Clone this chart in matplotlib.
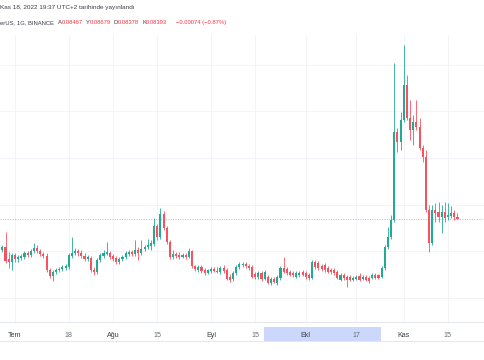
import numpy as np
import pandas as pd
import matplotlib
matplotlib.use('Agg')
import matplotlib.pyplot as plt
import matplotlib.dates as mdates
from matplotlib.patches import Rectangle
from matplotlib.transforms import blended_transform_factory

# daily candles, 27 Jun 2022 .. 18 Nov 2022
start_day = '2022-06-27'
opens = [0.0684, 0.0699, 0.0639, 0.0624, 0.0659, 0.0639, 0.0644, 0.0649, 0.0669, 0.0659,
         0.0679, 0.0694, 0.0679, 0.0664, 0.0654, 0.0584, 0.0554, 0.0574, 0.0584, 0.0589,
         0.0594, 0.0599, 0.0654, 0.0669, 0.0679, 0.0669, 0.0654, 0.0639, 0.0644, 0.0584,
         0.0574, 0.0634, 0.0654, 0.0664, 0.0669, 0.0654, 0.0644, 0.0624, 0.0639, 0.0649,
         0.0664, 0.0674, 0.0664, 0.0684, 0.0669, 0.0689, 0.0699, 0.0704, 0.0714, 0.0804,
         0.0749, 0.0864, 0.0794, 0.0724, 0.0649, 0.0664, 0.0659, 0.0649, 0.0659, 0.0649,
         0.0679, 0.0604, 0.0584, 0.0599, 0.0584, 0.0569, 0.0579, 0.0589, 0.0579, 0.0574,
         0.0594, 0.0584, 0.0549, 0.0539, 0.0569, 0.0599, 0.0609, 0.0614, 0.0604, 0.0599,
         0.0564, 0.0549, 0.0569, 0.0539, 0.0549, 0.0519, 0.0539, 0.0519, 0.0544, 0.0594,
         0.0589, 0.0574, 0.0569, 0.0549, 0.0559, 0.0574, 0.0569, 0.0559, 0.0544, 0.0624,
         0.0619, 0.0604, 0.0609, 0.0594, 0.0584, 0.0584, 0.0574, 0.0534, 0.0559, 0.0549,
         0.0549, 0.0534, 0.0539, 0.0554, 0.0539, 0.0549, 0.0544, 0.0544, 0.0559, 0.0559,
         0.0549, 0.0594, 0.0699, 0.0749, 0.0834, 0.1274, 0.1224, 0.1334, 0.1509, 0.1344,
         0.1284, 0.1324, 0.1299, 0.1194, 0.1149, 0.0884, 0.0719, 0.0884, 0.0874, 0.0849,
         0.0874, 0.0849, 0.0854, 0.0869, 0.08467]
closes = [0.0699, 0.0629, 0.0624, 0.0659, 0.0639, 0.0649, 0.0654, 0.0669, 0.0659, 0.0679,
          0.0694, 0.0679, 0.0664, 0.0654, 0.0584, 0.0554, 0.0574, 0.0584, 0.0589, 0.0599,
          0.0604, 0.0659, 0.0669, 0.0679, 0.0669, 0.0654, 0.0639, 0.0649, 0.0584, 0.0574,
          0.0634, 0.0659, 0.0669, 0.0674, 0.0649, 0.0639, 0.0624, 0.0639, 0.0649, 0.0669,
          0.0674, 0.0664, 0.0684, 0.0669, 0.0689, 0.0699, 0.0709, 0.0719, 0.0804, 0.0749,
          0.0864, 0.0794, 0.0724, 0.0649, 0.0664, 0.0654, 0.0649, 0.0659, 0.0649, 0.0679,
          0.0604, 0.0589, 0.0599, 0.0579, 0.0569, 0.0584, 0.0589, 0.0579, 0.0574, 0.0594,
          0.0579, 0.0539, 0.0534, 0.0569, 0.0599, 0.0614, 0.0614, 0.0604, 0.0594, 0.0549,
          0.0549, 0.0569, 0.0539, 0.0574, 0.0519, 0.0539, 0.0524, 0.0549, 0.0594, 0.0574,
          0.0569, 0.0559, 0.0559, 0.0569, 0.0569, 0.0559, 0.0549, 0.0544, 0.0624, 0.0599,
          0.0594, 0.0589, 0.0584, 0.0574, 0.0574, 0.0569, 0.0544, 0.0559, 0.0544, 0.0534,
          0.0534, 0.0544, 0.0549, 0.0534, 0.0549, 0.0534, 0.0529, 0.0559, 0.0544, 0.0544,
          0.0594, 0.0699, 0.0749, 0.0834, 0.1274, 0.1224, 0.1334, 0.1509, 0.1344, 0.1284,
          0.1324, 0.1299, 0.1194, 0.1149, 0.0884, 0.0719, 0.0884, 0.0869, 0.0849, 0.0874,
          0.0844, 0.0859, 0.0869, 0.08467, 0.08393]
highs = [0.0709, 0.0774, 0.0674, 0.0669, 0.0669, 0.0659, 0.0664, 0.0679, 0.0679, 0.0689,
         0.0719, 0.0709, 0.0689, 0.0674, 0.0669, 0.0594, 0.0584, 0.0594, 0.0599, 0.0609,
         0.0614, 0.0669, 0.0749, 0.0694, 0.0689, 0.0684, 0.0669, 0.0659, 0.0654, 0.0599,
         0.0644, 0.0669, 0.0684, 0.0724, 0.0679, 0.0664, 0.0654, 0.0649, 0.0659, 0.0679,
         0.0684, 0.0684, 0.0734, 0.0699, 0.0734, 0.0709, 0.0739, 0.0734, 0.0844, 0.0814,
         0.0894, 0.0879, 0.0804, 0.0734, 0.0684, 0.0674, 0.0674, 0.0669, 0.0669, 0.0694,
         0.0684, 0.0609, 0.0609, 0.0609, 0.0594, 0.0589, 0.0599, 0.0599, 0.0599, 0.0604,
         0.0609, 0.0594, 0.0564, 0.0579, 0.0609, 0.0624, 0.0624, 0.0624, 0.0614, 0.0609,
         0.0574, 0.0579, 0.0579, 0.0584, 0.0559, 0.0549, 0.0549, 0.0559, 0.0604, 0.0649,
         0.0599, 0.0584, 0.0579, 0.0579, 0.0579, 0.0584, 0.0579, 0.0569, 0.0634, 0.0634,
         0.0629, 0.0614, 0.0619, 0.0604, 0.0594, 0.0594, 0.0584, 0.0569, 0.0569, 0.0559,
         0.0559, 0.0554, 0.0559, 0.0569, 0.0559, 0.0559, 0.0554, 0.0569, 0.0569, 0.0564,
         0.0604, 0.0709, 0.0799, 0.0859, 0.1619, 0.1294, 0.1374, 0.1709, 0.1559, 0.1434,
         0.1359, 0.1434, 0.1344, 0.1209, 0.1184, 0.0909, 0.0909, 0.0919, 0.0924, 0.0909,
         0.0924, 0.0919, 0.0904, 0.0884, 0.08679]
lows = [0.0674, 0.0619, 0.0594, 0.0584, 0.0624, 0.0624, 0.0634, 0.0639, 0.0649, 0.0649,
        0.0669, 0.0669, 0.0654, 0.0644, 0.0574, 0.0544, 0.0529, 0.0564, 0.0574, 0.0579,
        0.0584, 0.0589, 0.0644, 0.0659, 0.0654, 0.0644, 0.0629, 0.0629, 0.0574, 0.0559,
        0.0564, 0.0624, 0.0644, 0.0659, 0.0639, 0.0629, 0.0614, 0.0614, 0.0629, 0.0639,
        0.0654, 0.0654, 0.0654, 0.0634, 0.0659, 0.0679, 0.0689, 0.0684, 0.0704, 0.0734,
        0.0739, 0.0784, 0.0714, 0.0639, 0.0639, 0.0644, 0.0639, 0.0644, 0.0639, 0.0644,
        0.0594, 0.0579, 0.0574, 0.0569, 0.0559, 0.0564, 0.0569, 0.0574, 0.0569, 0.0564,
        0.0569, 0.0534, 0.0524, 0.0529, 0.0559, 0.0589, 0.0599, 0.0594, 0.0584, 0.0544,
        0.0539, 0.0539, 0.0529, 0.0534, 0.0514, 0.0509, 0.0519, 0.0509, 0.0534, 0.0569,
        0.0559, 0.0554, 0.0549, 0.0544, 0.0549, 0.0554, 0.0539, 0.0534, 0.0539, 0.0589,
        0.0584, 0.0579, 0.0574, 0.0569, 0.0564, 0.0559, 0.0539, 0.0529, 0.0534, 0.0499,
        0.0529, 0.0529, 0.0534, 0.0529, 0.0534, 0.0529, 0.0519, 0.0539, 0.0539, 0.0539,
        0.0544, 0.0584, 0.0689, 0.0739, 0.0824, 0.1174, 0.1184, 0.1324, 0.1334, 0.1234,
        0.1209, 0.1284, 0.1184, 0.1124, 0.0874, 0.0674, 0.0709, 0.0824, 0.0824, 0.0769,
        0.0824, 0.0834, 0.0844, 0.0834, 0.08378]

tick_days = ['2022-07-01', '2022-07-18', '2022-08-01', '2022-08-15', '2022-09-01',
             '2022-09-15', '2022-10-01', '2022-10-17', '2022-11-01', '2022-11-15']
tick_labels = ['Tem', '18', 'Ağu', '15', 'Eyl', '15', 'Ekl', '17', 'Kas', '15']
header_line1 = 'Kas 18, 2022 19:37 UTC+2 tarihinde yayınlandı'
symbol_text = 'erUS, 1G, BINANCE'

UP = '#22ab94'
DOWN = '#f7525f'
DARK = '#3b3e47'
GRID = '#f0f3fa'
FONT = 'Liberation Sans'
W, H = 485, 360

o = np.array(opens); c = np.array(closes)
hi = np.array(highs); lo = np.array(lows)
days = pd.date_range(start_day, periods=len(o), freq='D')
x = mdates.date2num(days)
up = c >= o
cols = np.where(up, UP, DOWN)

fig = plt.figure(figsize=(W / 100, H / 100), dpi=100)
ax = fig.add_axes([0, 1 - 322 / H, 1, (322 - 35) / H])

#wicks then bodies
ax.vlines(x, lo, hi, colors=cols, lw=0.6, zorder=3)
body = np.maximum(np.abs(c - o), 0.00025)
ax.bar(x, body, bottom=np.minimum(o, c), width=0.66, color=cols, linewidth=0, zorder=4)

# last price line
ax.axhline(c[-1], color=DOWN, lw=0.7, ls=(0, (1, 1.5)), alpha=0.55, zorder=2)

ax.set_xlim(mdates.date2num(pd.Timestamp('2022-06-26 06:00')),
            mdates.date2num(pd.Timestamp('2022-11-26 17:00')))
ax.set_ylim(0.0324, 0.1759)

ax.set_xticks(mdates.date2num(pd.to_datetime(tick_days)))
ax.set_xticklabels(tick_labels)
for lab, txt in zip(ax.get_xticklabels(), tick_labels):
    lab.set_color(DARK if not txt.isdigit() else '#6a6d78')
    lab.set_fontsize(5.1)
    lab.set_family(FONT)
ax.tick_params(axis='x', length=0, pad=7.2)
ax.set_yticks(np.linspace(0.0443, 0.1611, 6))
ax.tick_params(axis='y', length=0, labelleft=False)
ax.grid(True, color=GRID, lw=0.6, zorder=0)
ax.set_axisbelow(True)
for s in ['top', 'left', 'right']:
    ax.spines[s].set_visible(False)
ax.spines['bottom'].set_color('#e0e3eb')
ax.spines['bottom'].set_linewidth(0.6)

# highlighted range on the time scale
tr = blended_transform_factory(ax.transData, ax.transAxes)
x0 = mdates.date2num(pd.Timestamp('2022-09-17 20:00'))
x1 = mdates.date2num(pd.Timestamp('2022-10-24 20:00'))
ax.add_patch(Rectangle((x0, -19 / 287), x1 - x0, 14 / 287, transform=tr,
                       facecolor='#ccd8fb', edgecolor='none', clip_on=False, zorder=0.5))
fig.add_artist(plt.Line2D([0, 1], [1 - 341 / H] * 2, color='#e0e3eb', lw=0.6))

# header
fig.text(0.3 / W, 1 - 8 / H, header_line1, color=DARK, fontsize=4.6, family=FONT, va='center')

renderer = fig.canvas.get_renderer()
red = '#f23645'
chg = c[-1] - c[-2]
pct = chg / c[-2] * 100
parts = [(symbol_text, DARK, 3.5),
         ('A', DARK, 0), (f'{o[-1]:.5f}', red, 3),
         ('Y', DARK, 0), (f'{hi[-1]:.5f}', red, 3),
         ('D', DARK, 0), (f'{lo[-1]:.5f}', red, 3),
         ('K', DARK, 0), (f'{c[-1]:.5f}', red, 9),
         (f'{chg:.5f} ({pct:.2f}%)'.replace('-', '\u2212'), red, 0)]
xp = 0.3
for txt, col, gap in parts:
    t = fig.text(xp / W, 1 - 22.5 / H, txt, color=col, fontsize=4.25, family=FONT, va='center')
    xp += t.get_window_extent(renderer=renderer).width + gap

fig.savefig('out.png', dpi=100)
